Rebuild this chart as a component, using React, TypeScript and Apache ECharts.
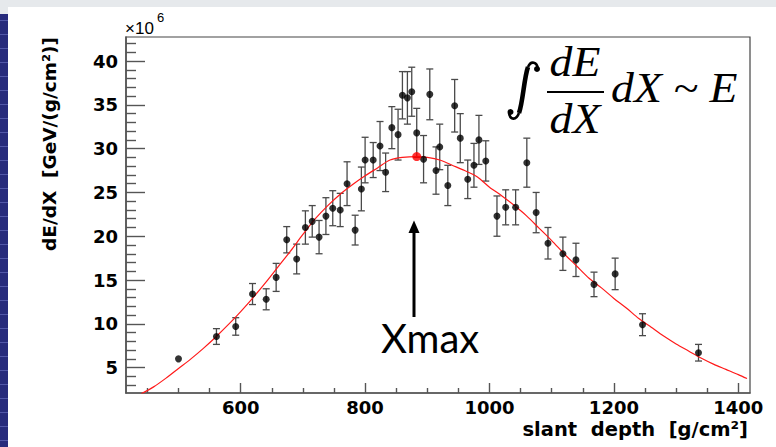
import React, { useEffect, useRef } from "react";
import * as echarts from "echarts";

// ---- data ----
const depth = [500, 561, 592, 619, 641, 657, 674, 690, 704, 715, 726, 737, 748, 760, 771, 784, 794, 800, 813, 824, 833, 843, 853, 860, 868, 875, 883, 894, 904, 914, 920, 933, 944, 953, 965, 975, 983, 994, 1012, 1026, 1042, 1060, 1075, 1094, 1118, 1139, 1168, 1202, 1246, 1336];
const dEdX = [6.0, 8.55, 9.7, 13.4, 12.8, 15.3, 19.6, 17.4, 21.0, 21.7, 19.9, 22.3, 23.2, 23.0, 26.0, 20.7, 25.4, 28.7, 28.7, 30.3, 27.3, 32.4, 31.6, 36.1, 35.8, 36.5, 31.8, 28.8, 36.2, 27.5, 30.2, 25.8, 34.9, 31.2, 26.5, 28.1, 31.0, 28.6, 22.3, 23.3, 23.3, 28.4, 22.7, 19.2, 18.0, 17.3, 14.5, 15.7, 9.9, 6.7];
const dEdXErr = [0, 0.9, 1.0, 1.2, 1.2, 1.6, 1.5, 1.7, 1.9, 1.8, 1.9, 2.1, 2.0, 1.9, 2.5, 1.7, 2.5, 2.6, 2.0, 2.8, 2.2, 2.4, 2.9, 2.7, 3.0, 2.8, 2.8, 2.7, 2.9, 2.7, 2.6, 2.3, 3.0, 2.8, 2.2, 2.5, 2.8, 2.3, 2.3, 2.0, 2.0, 2.8, 2.3, 1.8, 1.9, 1.9, 1.4, 1.8, 1.25, 0.95];

const fitDepth = [440, 460, 480, 500, 520, 540, 560, 580, 600, 620, 640, 660, 680, 700, 720, 740, 760, 780, 800, 820, 840, 860, 883, 900, 920, 940, 960, 980, 1000, 1020, 1040, 1060, 1080, 1100, 1120, 1140, 1160, 1180, 1200, 1220, 1240, 1260, 1280, 1300, 1320, 1340, 1360, 1380, 1400, 1414];
const fitValue = [2.0, 2.8, 3.8, 4.9, 6.0, 7.2, 8.5, 9.9, 11.4, 13.0, 14.7, 16.5, 18.3, 20.2, 22.0, 23.5, 24.8, 25.9, 26.9, 27.8, 28.7, 29.0, 29.1, 29.0, 28.7, 28.1, 27.5, 26.8, 25.6, 24.6, 23.5, 22.3, 20.9, 19.5, 18.0, 16.6, 15.2, 14.1, 12.9, 11.8, 10.6, 9.6, 8.6, 7.7, 6.9, 6.1, 5.4, 4.8, 4.2, 3.75];

const xmaxDepth = 883;
const xmaxValue = 29.1;

const xRange = [415.6, 1418.8];
const yRange = [2.1, 42.75];
const xMajorTicks = [600, 800, 1000, 1200, 1400];
const xMinorTicks = [450, 500, 550, 650, 700, 750, 850, 900, 950, 1050, 1100, 1150, 1250, 1300, 1350];
const yMajorTicks = [5, 10, 15, 20, 25, 30, 35, 40];
const yMinorTicks = [3, 4, 6, 7, 8, 9, 11, 12, 13, 14, 16, 17, 18, 19, 21, 22, 23, 24, 26, 27, 28, 29, 31, 32, 33, 34, 36, 37, 38, 39, 41, 42];

const xTitle = "slant  depth  [g/cm²]";
const yTitle = "dE/dX  [GeV/(g/cm²)]";

const AXIS_COLOR = "#555";
const LABEL_FONT = { fontFamily: "DejaVu Sans", fontWeight: "bold" as const, fontSize: 18, color: "#000" };

export default function App() {
  const ref = useRef<HTMLDivElement>(null);

  useEffect(() => {
    if (!ref.current) return;
    const chart = echarts.init(ref.current, undefined, { renderer: "svg" });

    const errData = depth.map((d, i) => [d, dEdX[i], dEdXErr[i]]);
    const ptData = depth.map((d, i) => [d, dEdX[i]]);
    const fitData = fitDepth.map((d, i) => [d, fitValue[i]]);

    const stripLines: any[] = [];
    for (let y = 20; y < 447; y += 14) {
      stripLines.push({ type: "rect", shape: { x: 0, y, width: 8, height: 1 }, style: { fill: "#5157a8" }, silent: true });
    }

    const serif = { fontFamily: "Liberation Serif", fontStyle: "italic" as const, fill: "#000" };
    const plainLabel = (v: number) => String(v);

    chart.setOption({
      animation: false,
      backgroundColor: "#fff",
      grid: { left: 126, top: 37, right: 26, bottom: 54, show: true, borderColor: "#444", borderWidth: 1.2, backgroundColor: "transparent" },
      xAxis: [
        {
          type: "value", min: xRange[0], max: xRange[1],
          axisLine: { show: true, lineStyle: { color: AXIS_COLOR, width: 1.6 } },
          axisTick: { show: true, inside: true, length: 10, customValues: xMajorTicks, lineStyle: { color: AXIS_COLOR, width: 1.4 } },
          axisLabel: { show: true, customValues: xMajorTicks, margin: 5, formatter: plainLabel, ...LABEL_FONT },
          splitLine: { show: false },
        },
        {
          type: "value", min: xRange[0], max: xRange[1], position: "bottom",
          axisLine: { show: false },
          axisTick: { show: true, inside: true, length: 5, customValues: xMinorTicks, lineStyle: { color: AXIS_COLOR, width: 1.4 } },
          axisLabel: { show: false },
          splitLine: { show: false },
        },
      ],
      yAxis: [
        {
          type: "value", min: yRange[0], max: yRange[1],
          axisLine: { show: true, lineStyle: { color: AXIS_COLOR, width: 1.6 } },
          axisTick: { show: true, inside: true, length: 19, customValues: yMajorTicks, lineStyle: { color: AXIS_COLOR, width: 1.4 } },
          axisLabel: { show: true, customValues: yMajorTicks, margin: 8, formatter: plainLabel, ...LABEL_FONT },
          splitLine: { show: false },
        },
        {
          type: "value", min: yRange[0], max: yRange[1], position: "left",
          axisLine: { show: false },
          axisTick: { show: true, inside: true, length: 10, customValues: yMinorTicks, lineStyle: { color: AXIS_COLOR, width: 1.4 } },
          axisLabel: { show: false },
          splitLine: { show: false },
        },
      ],
      series: [
        {
          type: "custom",
          xAxisIndex: 0, yAxisIndex: 0,
          data: errData,
          renderItem: (_p: any, api: any) => {
            const x = api.value(0), y = api.value(1), e = api.value(2);
            if (!e) return { type: "group", children: [] };
            const t = api.coord([x, y + e]);
            const b = api.coord([x, y - e]);
            const c = 3.5;
            const st = { stroke: "#4a4a4a", lineWidth: 1.3 };
            return {
              type: "group",
              children: [
                { type: "line", shape: { x1: t[0], y1: t[1], x2: b[0], y2: b[1] }, style: st },
                { type: "line", shape: { x1: t[0] - c, y1: t[1], x2: t[0] + c, y2: t[1] }, style: st },
                { type: "line", shape: { x1: b[0] - c, y1: b[1], x2: b[0] + c, y2: b[1] }, style: st },
              ],
            };
          },
          z: 2,
        },
        {
          type: "line", xAxisIndex: 0, yAxisIndex: 0, data: fitData, smooth: 0.3,
          showSymbol: false, lineStyle: { color: "#ff1a1a", width: 1.2 }, z: 3,
        },
        {
          type: "scatter", xAxisIndex: 0, yAxisIndex: 0, data: ptData, symbol: "circle", symbolSize: 7,
          itemStyle: { color: "#000" }, z: 4,
        },
        {
          type: "scatter", xAxisIndex: 0, yAxisIndex: 0, data: [[xmaxDepth, xmaxValue]], symbol: "circle", symbolSize: 9,
          itemStyle: { color: "#ff0000" }, z: 5,
        },
      ],
      graphic: [
        { type: "rect", shape: { x: 0, y: 0, width: 776, height: 7 }, style: { fill: "#e6e9ec" }, silent: true },
        { type: "rect", shape: { x: 0, y: 7, width: 8, height: 7 }, style: { fill: "#e6e9ec" }, silent: true },
        { type: "rect", shape: { x: 0, y: 14, width: 8, height: 433 }, style: { fill: "#272b7c" }, silent: true },
        ...stripLines,
        // x10^6
        { type: "text", x: 125, y: 28, style: { text: "×10", fontFamily: "Liberation Sans", fontSize: 17, fill: "#000", textAlign: "left", textVerticalAlign: "middle" } },
        { type: "text", x: 157, y: 17, style: { text: "6", fontFamily: "Liberation Sans", fontSize: 13, fill: "#000", textAlign: "left", textVerticalAlign: "middle" } },
        // axis titles
        { type: "text", x: 49, y: 37, rotation: Math.PI / 2, style: { text: yTitle, ...LABEL_FONT, fontSize: 18.5, fill: "#000", textAlign: "right", textVerticalAlign: "middle" } },
        { type: "text", x: 748, y: 429.5, style: { text: xTitle, ...LABEL_FONT, fontSize: 19.5, fill: "#000", textAlign: "right", textVerticalAlign: "middle" } },
        // formula: integral sign drawn as curves
        { type: "bezierCurve", shape: { x1: 538, y1: 69, cpx1: 537, cpy1: 62, cpx2: 531, cpy2: 60, x2: 528, y2: 67 }, style: { stroke: "#000", lineWidth: 2.6, fill: null } },
        { type: "bezierCurve", shape: { x1: 528, y1: 67, cpx1: 524, cpy1: 78, cpx2: 523, cpy2: 102, x2: 519, y2: 113 }, style: { stroke: "#000", lineWidth: 4.6, fill: null } },
        { type: "bezierCurve", shape: { x1: 519, y1: 113, cpx1: 516, cpy1: 121, cpx2: 510, cpy2: 120, x2: 509, y2: 113 }, style: { stroke: "#000", lineWidth: 2.6, fill: null } },
        { type: "circle", shape: { cx: 537, cy: 69, r: 3 }, style: { fill: "#000" } },
        { type: "circle", shape: { cx: 510.5, cy: 112, r: 3 }, style: { fill: "#000" } },
        { type: "text", x: 575, y: 62.5, scaleX: 1.09, style: { text: "dE", ...serif, fontSize: 42, textAlign: "center", textVerticalAlign: "middle" } },
        { type: "line", shape: { x1: 547, y1: 92, x2: 604, y2: 92 }, style: { stroke: "#000", lineWidth: 1.8 } },
        { type: "text", x: 575, y: 119.5, scaleX: 1.09, style: { text: "dX", ...serif, fontSize: 42, textAlign: "center", textVerticalAlign: "middle" } },
        { type: "text", x: 611, y: 88.5, scaleX: 1.09, style: { text: "dX ~ E", ...serif, fontSize: 42, textAlign: "left", textVerticalAlign: "middle" } },
        // Xmax arrow
        { type: "line", shape: { x1: 414, y1: 230, x2: 414, y2: 317 }, style: { stroke: "#000", lineWidth: 3 } },
        { type: "polygon", shape: { points: [[414, 220.5], [408.5, 233], [419.5, 233]] }, style: { fill: "#000" } },
        { type: "text", x: 381, y: 338, style: { text: "Xmax", fontFamily: "Lato", fontSize: 40, fill: "#000", textAlign: "left", textVerticalAlign: "middle" } },
      ],
    });

    return () => chart.dispose();
  }, []);

  return <div ref={ref} style={{ position: "absolute", left: 0, top: 0, width: 776, height: 447 }} />;
}
